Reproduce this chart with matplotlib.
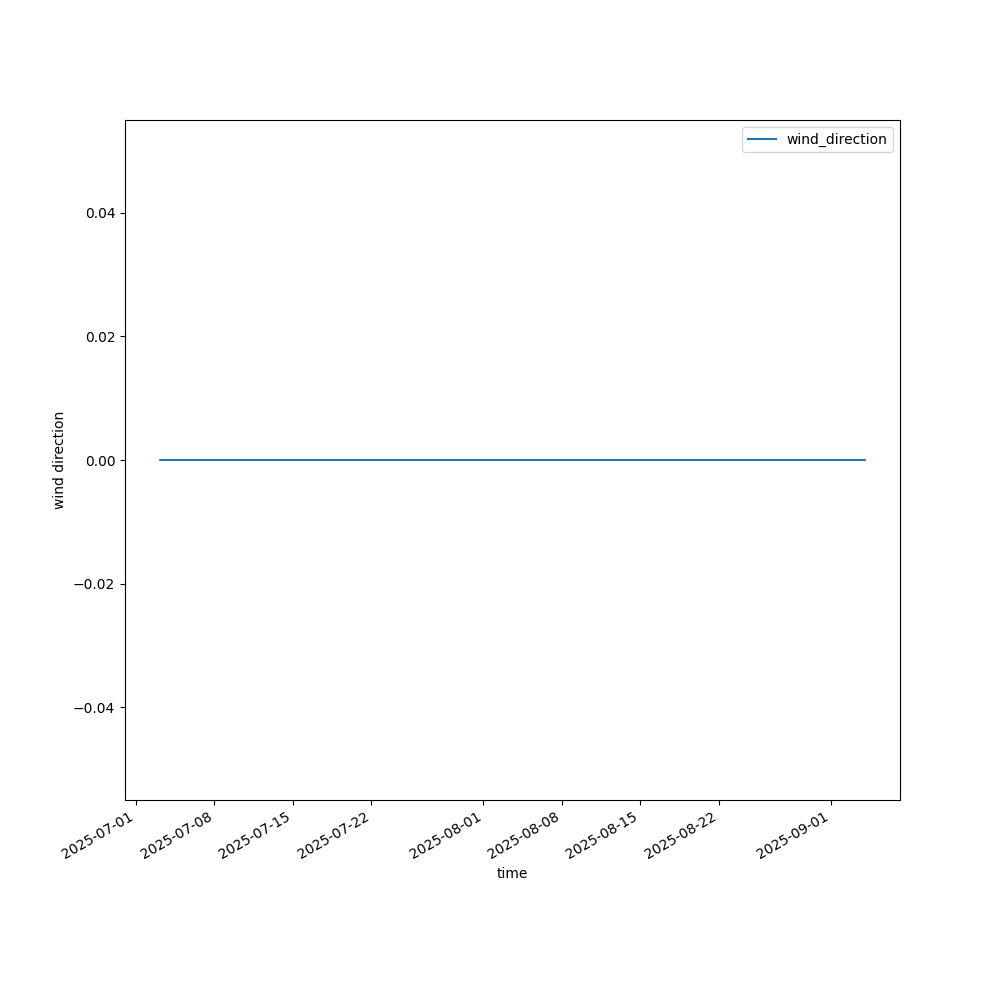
import pandas as pd
import matplotlib
matplotlib.use("Agg")
import matplotlib.pyplot as plt

start_time = "2025-07-03 04:00"
end_time = "2025-09-04 01:00"
times = pd.date_range(start_time, end_time, freq="h")
wind_direction = [0.0] * len(times)

fig, ax = plt.subplots(figsize=(10, 10), dpi=100)
ax.plot(times, wind_direction, label="wind_direction")
ax.set_xlabel("time")
ax.set_ylabel("wind direction")
ax.legend(loc="upper right")
fig.autofmt_xdate()

fig.savefig("out.png")
